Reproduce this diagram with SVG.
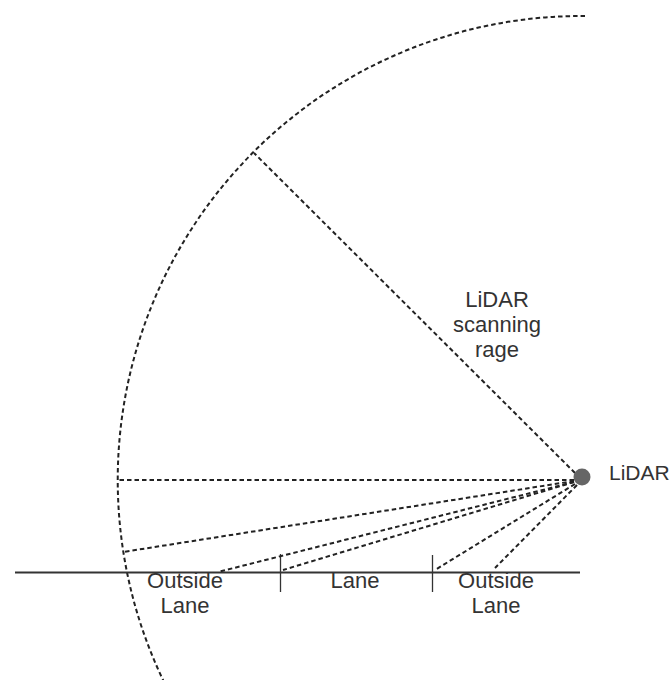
<svg xmlns="http://www.w3.org/2000/svg" width="672" height="680" viewBox="0 0 672 680">
<style>
.dash{fill:none;stroke:#222;stroke-width:2;stroke-dasharray:4.5 3}
.solid{fill:none;stroke:#333;stroke-width:2}
.tick{fill:none;stroke:#333;stroke-width:1.3}
.lbl{font-family:"Liberation Sans",Arial,sans-serif;font-size:22px;fill:#333;text-anchor:middle}
</style>
<rect width="672" height="680" fill="#fff"/>
<g id="range-arc">
<path class="dash" d="M 585 16 A 464 464 0 0 0 169 692"/>
</g>
<g id="road">
<line class="solid" x1="15" y1="572.5" x2="580" y2="572.5"/>
<line class="tick" x1="280.5" y1="554" x2="280.5" y2="592"/>
<line class="tick" x1="432.5" y1="555" x2="432.5" y2="592"/>
</g>
<g id="connectors">
<line class="dash" x1="575" y1="473" x2="254" y2="153"/>
<line class="dash" x1="574" y1="480" x2="119" y2="480"/>
<line class="dash" x1="574" y1="481" x2="123" y2="552"/>
<line class="dash" x1="574" y1="482" x2="218" y2="572"/>
<line class="dash" x1="574" y1="482" x2="283" y2="570"/>
<line class="dash" x1="575" y1="484" x2="435" y2="570"/>
<line class="dash" x1="577" y1="485" x2="495" y2="568"/>
</g>
<g id="lidar">
<circle cx="582" cy="477" r="8.5" fill="#666"/>
<text class="lbl" x="609" y="480" style="text-anchor:start;font-size:21px">LiDAR</text>
</g>
<g id="range-label">
<text class="lbl" x="497" y="307">LiDAR</text>
<text class="lbl" x="497" y="332">scanning</text>
<text class="lbl" x="497" y="357">rage</text>
</g>
<g id="outside-lane-left">
<text class="lbl" x="185" y="588">Outside</text>
<text class="lbl" x="185" y="613">Lane</text>
</g>
<g id="lane">
<text class="lbl" x="355" y="588">Lane</text>
</g>
<g id="outside-lane-right">
<text class="lbl" x="496" y="588">Outside</text>
<text class="lbl" x="496" y="613">Lane</text>
</g>
</svg>
